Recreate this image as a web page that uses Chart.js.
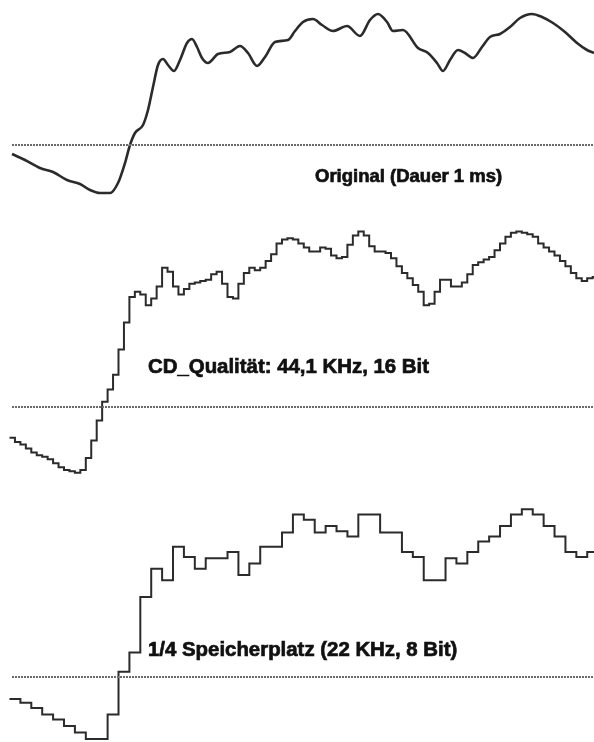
<!DOCTYPE html>
<html>
<head>
<meta charset="utf-8">
<script src="https://cdn.jsdelivr.net/npm/chart.js@4.4.1/dist/chart.umd.min.js"></script>
<style>
  html, body { margin: 0; padding: 0; background: #fff; }
  #wrap { position: relative; width: 594px; height: 742px; overflow: hidden; }
  .panel { position: absolute; left: 0; display: block; }
</style>
</head>
<body>
<div id="wrap">
  <canvas id="origChart" class="panel" width="594" height="210" style="top:0px"></canvas>
  <canvas id="cdChart" class="panel" width="594" height="280" style="top:210px"></canvas>
  <canvas id="lowChart" class="panel" width="594" height="252" style="top:490px"></canvas>
</div>
<script>
// Original signal (time, amplitude)
const origTime = [0, 13, 28, 41, 55, 68, 78, 88, 98, 106,
  113, 118, 123, 131, 136, 141, 146, 151, 156, 162,
  168, 175, 180, 185, 190, 196, 206, 218, 228, 236,
  245, 253, 263, 276, 283, 291, 301, 310, 321, 335,
  348, 358, 366, 375, 381, 391, 406, 416, 425, 431,
  438, 446, 453, 461, 470, 478, 488, 498, 508, 520,
  530, 541, 553, 565, 575, 582];
const origAmp = [-9, -15, -23, -27, -35, -39, -45, -48, -48, -38,
  -18, 0, 12, 20, 35, 58, 80, 86, 80, 74,
  85, 102, 106, 98, 87, 82, 91, 93, 99, 92,
  79, 88, 103, 105, 114, 123, 126, 120, 114, 119,
  109, 125, 131, 123, 114, 115, 97, 92, 82, 74,
  85, 95, 92, 87, 98, 108, 111, 118, 127, 131,
  128, 122, 113, 102, 95, 92];

// CD quality (44,1 kHz, 16 Bit): one held value per sample
const cdSamples = [-23, -26, -28, -31, -34, -36, -37, -39, -42, -45,
  -47, -48, -49, -47, -38, -25, -10, 4, 13, 24,
  43, 63, 82, 86, 84, 76, 81, 90, 104, 101,
  90, 84, 88, 92, 93, 94, 95, 99, 101, 92,
  82, 81, 92, 100, 104, 102, 104, 109, 114, 122,
  125, 126, 125, 122, 119, 116, 116, 119, 118, 113,
  111, 112, 121, 128, 131, 128, 120, 116, 116, 115,
  111, 105, 100, 96, 91, 86, 76, 77, 86, 95,
  95, 90, 90, 93, 99, 106, 108, 110, 112, 117,
  122, 127, 130, 131, 130, 129, 127, 122, 119, 116,
  113, 109, 105, 100, 96, 94, 96, 97];

// 1/4 storage (22 kHz, 8 Bit)
const lowSamples = [-17, -20, -24, -29, -33, -38, -43, -48, -48, -29,
  4, 19, 62, 84, 75, 101, 93, 84, 92, 92,
  97, 79, 88, 101, 101, 112, 126, 122, 112, 117,
  113, 109, 126, 126, 112, 112, 97, 93, 75, 75,
  92, 88, 97, 105, 109, 117, 126, 130, 126, 117,
  109, 97, 93, 97];

const panelLabels = ['Original (Dauer 1 ms)', 'CD_Qualität: 44,1 KHz, 16 Bit', '1/4 Speicherplatz (22 KHz, 8 Bit)'];

function heldSteps(values) {
  const pts = values.map((v, i) => ({ x: i, y: v }));
  // keep the last sample held to its end
  pts.push({ x: values.length, y: values[values.length - 1] });
  return pts;
}

function labelPlugin(text, x, y, size) {
  return {
    id: 'panelLabel',
    afterDraw(chart) {
      const ctx = chart.ctx;
      ctx.save();
      ctx.font = 'bold ' + size + 'px "Liberation Sans", Arial, sans-serif';
      ctx.fillStyle = '#111';
      ctx.strokeStyle = '#111';
      ctx.lineWidth = 0.7;
      ctx.textBaseline = 'alphabetic';
      ctx.fillText(text, x, y);
      ctx.strokeText(text, x, y);
      ctx.restore();
    }
  };
}

function makePanel(id, signal, zeroFrom, zeroTo, xRange, yRange, label, smooth) {
  const ctx = document.getElementById(id).getContext('2d');
  new Chart(ctx, {
    type: 'line',
    data: {
      datasets: [
        {
          data: [{ x: zeroFrom, y: 0 }, { x: zeroTo, y: 0 }],
          borderColor: '#6a6a6a',
          borderWidth: 2,
          borderDash: [2, 1],
          pointRadius: 0
        },
        Object.assign({
          data: signal,
          borderColor: '#2b2b2b',
          borderWidth: smooth ? 2.6 : 2,
          pointRadius: 0
        }, smooth ? { cubicInterpolationMode: 'monotone' } : { stepped: 'before' })
      ]
    },
    options: {
      responsive: false,
      animation: false,
      layout: { padding: 0 },
      plugins: { legend: { display: false }, tooltip: { enabled: false } },
      scales: {
        x: { type: 'linear', display: false, min: xRange[0], max: xRange[1] },
        y: { display: false, min: yRange[0], max: yRange[1] }
      }
    },
    plugins: [label]
  });
}

makePanel('origChart',
  origTime.map((t, i) => ({ x: t, y: origAmp[i] })),
  0, 582, [-12, 582], [-65, 145],
  labelPlugin(panelLabels[0], 315, 182, 18.5), true);

makePanel('cdChart',
  heldSteps(cdSamples),
  0.46, 108, [-1.743, 107.25], [-61.9, 147],
  labelPlugin(panelLabels[1], 148, 163, 20.4), false);

makePanel('lowChart',
  heldSteps(lowSamples),
  0.23, 54, [-0.872, 53.62], [-50.4, 145],
  labelPlugin(panelLabels[2], 148, 166, 20.4), false);
</script>
</body>
</html>
